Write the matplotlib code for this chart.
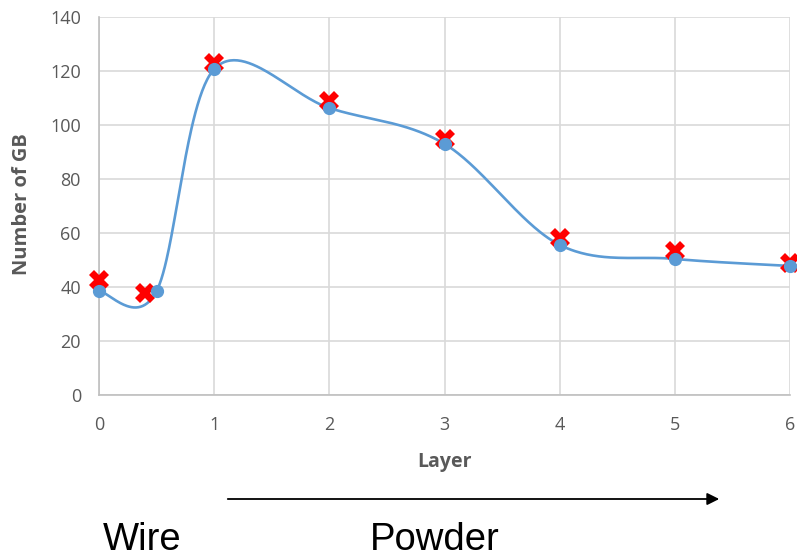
import numpy as np
import matplotlib
matplotlib.use("Agg")
import matplotlib.pyplot as plt

# Data
blue_x = [0, 0.5, 1, 2, 3, 4, 5, 6]
blue_y = [38.5, 38.5, 120.7, 106.3, 93.0, 55.6, 50.4, 47.8]
red_x = [0, 0.4, 1, 2, 3, 4, 5, 6]
red_y = [42.6, 37.8, 122.8, 109.0, 95.0, 58.3, 53.2, 48.8]
x_ticks = [0, 1, 2, 3, 4, 5, 6]
y_ticks = [0, 20, 40, 60, 80, 100, 120, 140]


def excel_smooth(xs, ys, n=60):
    # Excel-like smoothed line: Bezier segments with Catmull-Rom control points
    P = np.column_stack([xs, ys]).astype(float)
    out = []
    for i in range(len(P) - 1):
        p0 = P[i - 1] if i > 0 else P[i]
        p1 = P[i]
        p2 = P[i + 1]
        p3 = P[i + 2] if i + 2 < len(P) else P[i + 1]
        c1 = p1 + (p2 - p0) / 6.0
        c2 = p2 - (p3 - p1) / 6.0
        t = np.linspace(0, 1, n)[:, None]
        seg = ((1 - t) ** 3) * p1 + 3 * ((1 - t) ** 2) * t * c1 + 3 * (1 - t) * t ** 2 * c2 + t ** 3 * p2
        out.append(seg if i == 0 else seg[1:])
    out = np.vstack(out)
    return out[:, 0], out[:, 1]


plt.rcParams['font.family'] = ['Open Sans', 'DejaVu Sans']

W, H = 797, 559
fig = plt.figure(figsize=(W / 100, H / 100), dpi=100)
ax = fig.add_axes([99 / W, 1 - 395 / H, 691 / W, 378 / H])

sx, sy = excel_smooth(blue_x, blue_y)
ax.plot(sx, sy, color='#5B9BD5', lw=1.9, zorder=3, clip_on=False)
ax.plot(red_x, red_y, linestyle='none', marker='X', markersize=14,
        color='#FF0000', markeredgewidth=0, zorder=4, clip_on=False)
ax.plot(blue_x, blue_y, linestyle='none', marker='o', markersize=8.5,
        color='#5B9BD5', zorder=5, clip_on=False)

ax.set_xlim(0, 6)
ax.set_ylim(0, 140)
ax.set_xticks(x_ticks)
ax.set_yticks(y_ticks)
ax.grid(True, color='#D9D9D9', lw=1.2, zorder=0)
ax.set_axisbelow(True)
for s in ['top', 'right']:
    ax.spines[s].set_visible(False)
for s in ['left', 'bottom']:
    ax.spines[s].set_color('#BFBFBF')
    ax.spines[s].set_linewidth(1.2)
ax.tick_params(length=0, labelsize=13, colors='#595959')
ax.tick_params(axis='x', pad=15)
ax.tick_params(axis='y', pad=13)

ax.set_ylabel('Number of GB', fontsize=14.5, fontweight='bold', color='#595959')
ax.yaxis.set_label_coords((32 - 99) / 691, 0.505)
ax.set_xlabel('Layer', fontsize=14, fontweight='bold', color='#595959', va='top')
ax.xaxis.set_label_coords(0.5007, (395 - 452) / 378)

# Annotations below the chart
ax.annotate('', xy=(722 / W, 1 - 499 / H), xytext=(225 / W, 1 - 499 / H),
            xycoords='figure fraction', textcoords='figure fraction',
            arrowprops=dict(arrowstyle='-|>', color='black', lw=1.3, mutation_scale=18))
fig.text(103 / W, 1.5 / H, 'Wire', fontsize=27.5, color='black', va='bottom', ha='left',
         family=['Liberation Sans', 'DejaVu Sans'])
fig.text(370 / W, 1.5 / H, 'Powder', fontsize=27.5, color='black', va='bottom', ha='left',
         family=['Liberation Sans', 'DejaVu Sans'])

fig.savefig('out.png', dpi=100)
